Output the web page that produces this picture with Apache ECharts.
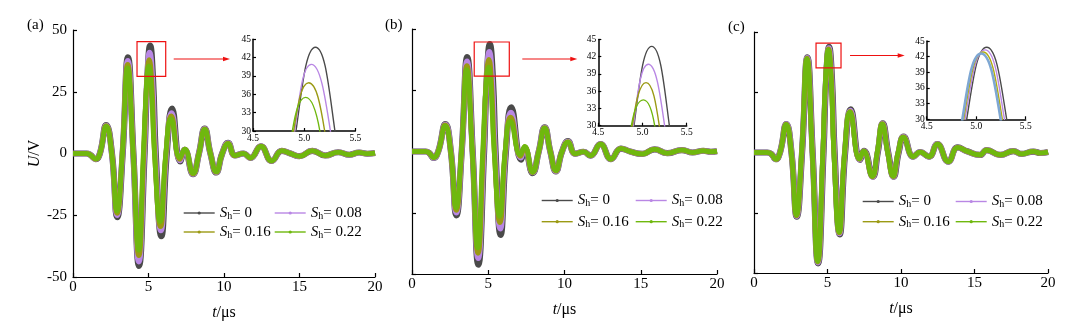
<!DOCTYPE html>
<html>
<head>
<meta charset="utf-8">
<script src="https://cdn.jsdelivr.net/npm/echarts@6/dist/echarts.min.js"></script>
<style>
  html, body { margin: 0; padding: 0; background: #fff; }
  #main { width: 1076px; height: 326px; }
</style>
</head>
<body>
<div id="main"></div>
<script>
// ---- Data: received voltage U (V) against time t (µs), one list of [t, U] per S_h ----
const shValues = ['0', '0.08', '0.16', '0.22'];

// Panel (a)
const tailA = [[10.73,-0.8],[11.28,0],[11.75,-1.8],[12.44,2.9],[13.16,-3.0],[13.83,1.1],[14.4,0],[15.0,-1.1],[15.85,1.1],[16.7,-0.8],[17.57,0.5],[18.3,-0.5],[18.95,0.4],[19.5,-0.1],[20,0.2]];
const aS0 = [[0,0],[0.9,0],[1.15,-0.6],[1.5,-2.3],[1.78,0],[2.2,11.5],[2.58,0],[2.93,-25.8],[3.29,0],[3.64,38.9],[4.0,0],[4.37,-45.5],[4.74,0],[4.92,30],[5.11,43.7],[5.30,30],[5.48,0],[5.85,-33.5],[6.21,0],[6.56,18.2],[7.1,-3.2],[7.4,1.5],[7.95,-8.4],[8.34,0],[8.72,10.1],[9.1,0],[9.49,-7.7],[9.88,0],[10.27,4.3]];
const aS08 = [[0,0],[0.9,0],[1.15,-0.6],[1.5,-2.3],[1.78,0],[2.2,11.3],[2.57,0],[2.92,-25.0],[3.28,0],[3.63,37.5],[3.99,0],[4.36,-43.8],[4.717,0],[4.907,30],[5.07,40.9],[5.256,30],[5.446,0],[5.82,-31.2],[6.18,0],[6.53,16.4],[7.09,-2.8],[7.4,1.6],[7.95,-8.3],[8.34,0],[8.72,10.0],[9.1,0],[9.49,-7.6],[9.88,0],[10.27,4.2]];
const aS16 = [[0,0],[0.9,0],[1.15,-0.6],[1.5,-2.3],[1.78,0],[2.2,11.2],[2.57,0],[2.92,-24.2],[3.27,0],[3.62,36.0],[3.99,0],[4.36,-41.3],[4.685,0],[4.897,30],[5.044,37.9],[5.20,30],[5.41,0],[5.80,-29.5],[6.16,0],[6.51,15.2],[7.08,-2.3],[7.4,1.7],[7.95,-8.2],[8.34,0],[8.72,9.9],[9.1,0],[9.49,-7.5],[9.88,0],[10.27,4.1]];
const aS22 = [[0,0],[0.9,0],[1.15,-0.6],[1.5,-2.2],[1.78,0],[2.2,11.0],[2.56,0],[2.91,-23.4],[3.27,0],[3.62,34.7],[3.98,0],[4.35,-39.2],[4.65,0],[4.884,30],[5.014,35.5],[5.153,30],[5.39,0],[5.78,-27.7],[6.14,0],[6.49,14.0],[7.07,-1.6],[7.4,1.8],[7.95,-8.0],[8.34,0],[8.72,9.8],[9.1,0],[9.49,-7.4],[9.88,0],[10.27,4.0]];

// Panel (b)
const tailB = [[10.7,-0.9],[11.25,-0.1],[11.7,-1.7],[12.36,3.0],[13.05,-3.1],[13.7,1.2],[14.3,0],[15.1,-1.0],[15.9,0.9],[16.75,-0.7],[17.7,0.6],[18.4,-0.4],[19.1,0.3],[19.6,-0.1],[20,0.1]];
const bS0 = [[0,0],[0.9,0],[1.13,-0.6],[1.42,-2.6],[1.72,0],[2.19,11.2],[2.55,0],[2.91,-26.1],[3.26,0],[3.62,38.5],[3.98,0],[4.35,-46.2],[4.728,0],[4.904,30],[5.104,43.8],[5.304,30],[5.48,0],[5.81,-34.0],[6.16,0],[6.51,18.0],[7.15,-3.3],[7.39,1.2],[7.91,-8.8],[8.31,0],[8.7,9.9],[9.07,0],[9.44,-8.1],[9.84,0],[10.23,4.2]];
const bS08 = [[0,0],[0.9,0],[1.13,-0.6],[1.42,-2.6],[1.72,0],[2.19,11.0],[2.55,0],[2.9,-25.0],[3.26,0],[3.61,36.8],[3.97,0],[4.34,-43.6],[4.703,0],[4.896,30],[5.066,40.7],[5.25,30],[5.443,0],[5.79,-31.5],[6.14,0],[6.49,15.9],[7.13,-2.5],[7.39,1.6],[7.91,-8.6],[8.31,0],[8.7,9.8],[9.07,0],[9.44,-8.0],[9.84,0],[10.23,4.1]];
const bS16 = [[0,0],[0.9,0],[1.13,-0.6],[1.42,-2.5],[1.72,0],[2.18,10.8],[2.54,0],[2.9,-24.0],[3.25,0],[3.6,35.0],[3.96,0],[4.33,-41.5],[4.67,0],[4.885,30],[5.04,37.5],[5.19,30],[5.405,0],[5.77,-29.0],[6.12,0],[6.47,14.0],[7.12,-1.9],[7.39,1.9],[7.91,-8.5],[8.31,0],[8.7,9.7],[9.07,0],[9.44,-7.9],[9.84,0],[10.23,4.0]];
const bS22 = [[0,0],[0.9,0],[1.13,-0.6],[1.42,-2.5],[1.72,0],[2.18,10.5],[2.54,0],[2.89,-23.0],[3.24,0],[3.59,33.4],[3.95,0],[4.31,-39.4],[4.63,0],[4.874,30],[5.01,34.5],[5.138,30],[5.383,0],[5.75,-26.5],[6.1,0],[6.45,12.3],[7.1,-1.3],[7.39,2.1],[7.91,-8.4],[8.31,0],[8.7,9.6],[9.07,0],[9.44,-7.8],[9.84,0],[10.23,3.9]];

// Panel (c)
const tailC = [[10.84,-1.7],[11.3,0.2],[11.9,-1.7],[12.47,3.5],[13.22,-3.8],[13.86,2.1],[14.5,0.5],[15.37,-1.0],[15.83,1.0],[16.75,-1.0],[17.64,0.6],[18.2,-0.6],[19.0,0.4],[19.5,-0.2],[20,0.2]];
const cS0 = [[0,0],[0.9,0],[1.18,-0.6],[1.48,-2.8],[1.77,0],[2.2,11.8],[2.55,0],[2.91,-26.6],[3.27,0],[3.63,39.5],[3.99,0],[4.36,-46.0],[4.728,0],[4.904,30],[5.106,43.8],[5.308,30],[5.484,0],[5.83,-34.0],[6.2,0],[6.58,17.9],[7.21,-3.1],[7.49,0.7],[8.08,-10.0],[8.42,0],[8.76,12.1],[9.13,0],[9.5,-10.0],[9.84,0],[10.18,6.6]];
const cS08 = [[0,0],[0.9,0],[1.18,-0.6],[1.48,-2.8],[1.77,0],[2.2,11.8],[2.55,0],[2.9,-26.4],[3.26,0],[3.62,39.3],[3.98,0],[4.35,-45.7],[4.709,0],[4.887,30],[5.09,43.3],[5.285,30],[5.463,0],[5.81,-33.6],[6.18,0],[6.56,17.4],[7.19,-3.0],[7.47,0.6],[8.06,-10.1],[8.4,0],[8.74,12.0],[9.11,0],[9.48,-10.0],[9.82,0],[10.17,6.5]];
const cS16 = [[0,0],[0.9,0],[1.18,-0.6],[1.48,-2.8],[1.77,0],[2.19,11.7],[2.54,0],[2.89,-26.2],[3.25,0],[3.61,39.1],[3.97,0],[4.34,-45.4],[4.694,0],[4.874,30],[5.07,42.9],[5.264,30],[5.444,0],[5.8,-33.3],[6.17,0],[6.54,17.0],[7.18,-2.8],[7.46,0.6],[8.05,-10.0],[8.39,0],[8.73,11.9],[9.1,0],[9.47,-9.9],[9.81,0],[10.16,6.4]];
const cS22 = [[0,0],[0.9,0],[1.18,-0.6],[1.48,-2.8],[1.77,0],[2.19,11.6],[2.54,0],[2.88,-26.0],[3.24,0],[3.6,38.9],[3.96,0],[4.33,-45.2],[4.679,0],[4.86,30],[5.05,42.6],[5.247,30],[5.428,0],[5.79,-33.0],[6.16,0],[6.53,16.8],[7.17,-2.7],[7.45,0.6],[8.04,-9.9],[8.38,0],[8.72,11.8],[9.09,0],[9.46,-9.8],[9.8,0],[10.15,6.3]];

// Tick values
const tTicks = [0, 5, 10, 15, 20];
const uTicks = [-50, -25, 0, 25, 50];
const tZoomTicks = [4.5, 5.0, 5.5];
const uZoomTicks = [30, 33, 36, 39, 42, 45];
const panelLabels = ['(a)', '(b)', '(c)'];

// Magnified windows (t range, U range) marked by the red boxes
const zoomWindows = [[4.24, 6.14, 31.2, 45.3], [4.08, 6.38, 30.8, 44.7], [4.22, 5.92, 35.1, 45.4]];

// ---- Styling and layout ----
const FONT = 'Liberation Serif';
const seriesNames = shValues.map(v => 'S_h = ' + v);
const lineColors = ['#4a4a4a', '#b987e4', '#9b9a14', '#6fb80e'];
const insetColors = [lineColors, lineColors, ['#4a4a4a', '#b987e4', '#b3ac10', '#7ea7d3']];
const mainWidths = [6.2, 5.6, 5.1, 4.6];
const panelSeries = [
  [aS0.concat(tailA), aS08.concat(tailA), aS16.concat(tailA), aS22.concat(tailA)],
  [bS0.concat(tailB), bS08.concat(tailB), bS16.concat(tailB), bS22.concat(tailB)],
  [cS0.concat(tailC), cS08.concat(tailC), cS16.concat(tailC), cS22.concat(tailC)]
];
const layout = [
  { main: { left: 73, top: 30, width: 302, height: 247 }, inset: { left: 253, top: 39.3, width: 102.4, height: 91.7 },
    legend: { col1: 183, col2: 274, top: 205.5, gap: 3.5 }, label: { left: 27, top: 17.5 }, arrow: [8, 23] },
  { main: { left: 412, top: 29, width: 305, height: 245 }, inset: { left: 598.3, top: 39.5, width: 88.4, height: 86.2 },
    legend: { col1: 541, col2: 635, top: 193, gap: 5.7 }, label: { left: 385, top: 17.5 }, arrow: [13, 21] },
  { main: { left: 754, top: 32, width: 294, height: 241 }, inset: { left: 926.7, top: 41, width: 99, height: 78.3 },
    legend: { col1: 862, col2: 955, top: 194, gap: 4.7 }, label: { left: 728, top: 19.5 }, arrow: [9, 22] }
];

const axisLineStyle = { color: '#000', width: 1.2 };
const grids = [], xAxes = [], yAxes = [], series = [], legends = [], titles = [];

layout.forEach((L, p) => {
  grids.push(Object.assign({ containLabel: false }, L.main));
  grids.push(Object.assign({ containLabel: false }, L.inset));
  const gMain = 2 * p, gInset = 2 * p + 1;

  xAxes.push({
    type: 'value', gridIndex: gMain,
    min: tTicks[0], max: tTicks[tTicks.length - 1], interval: tTicks[1] - tTicks[0],
    axisLine: { show: true, onZero: false, lineStyle: axisLineStyle },
    axisTick: { show: true, inside: true, length: 4, lineStyle: axisLineStyle },
    axisLabel: { show: true, margin: 3, color: '#000', fontFamily: FONT, fontSize: 15 },
    splitLine: { show: false },
    name: '{i|t}/μs', nameLocation: 'middle', nameGap: 28,
    nameTextStyle: { color: '#000', fontFamily: FONT, fontSize: 16, rich: { i: { fontStyle: 'italic', fontFamily: FONT, fontSize: 16, color: '#000' } } }
  });
  yAxes.push({
    type: 'value', gridIndex: gMain,
    min: uTicks[0], max: uTicks[uTicks.length - 1], interval: uTicks[1] - uTicks[0],
    axisLine: { show: true, onZero: false, lineStyle: axisLineStyle },
    axisTick: { show: true, inside: true, length: 4, lineStyle: axisLineStyle },
    axisLabel: { show: p === 0, margin: 6, color: '#000', fontFamily: FONT, fontSize: 15 },
    splitLine: { show: false },
    name: p === 0 ? '{i|U}/V' : '', nameLocation: 'middle', nameGap: 24,
    nameTextStyle: { color: '#000', fontFamily: FONT, fontSize: 16, rich: { i: { fontStyle: 'italic', fontFamily: FONT, fontSize: 16, color: '#000' } } }
  });
  xAxes.push({
    type: 'value', gridIndex: gInset,
    min: tZoomTicks[0], max: tZoomTicks[tZoomTicks.length - 1], interval: tZoomTicks[1] - tZoomTicks[0],
    axisLine: { show: true, onZero: false, lineStyle: { color: '#000', width: 1.5 } },
    axisTick: { show: true, inside: true, length: 3, lineStyle: { color: '#000', width: 1.2 } },
    axisLabel: { show: true, margin: 2, color: '#000', fontFamily: FONT, fontSize: 9.5, formatter: v => v.toFixed(1) },
    splitLine: { show: false }
  });
  yAxes.push({
    type: 'value', gridIndex: gInset,
    min: uZoomTicks[0], max: uZoomTicks[uZoomTicks.length - 1], interval: uZoomTicks[1] - uZoomTicks[0],
    axisLine: { show: true, onZero: false, lineStyle: { color: '#000', width: 1.5 } },
    axisTick: { show: true, inside: true, length: 3, lineStyle: { color: '#000', width: 1.2 } },
    axisLabel: { show: true, margin: 2, color: '#000', fontFamily: FONT, fontSize: 9.5 },
    splitLine: { show: false }
  });

  panelSeries[p].forEach((data, k) => {
    series.push({
      type: 'line', name: seriesNames[k], data: data,
      xAxisIndex: gMain, yAxisIndex: gMain,
      smooth: 0.5, symbol: 'circle', symbolSize: 3, showSymbol: false,
      lineStyle: { color: lineColors[k], width: mainWidths[k] },
      itemStyle: { color: lineColors[k] },
      emphasis: { disabled: true }, silent: true, z: 2 + k
    });
  });
  panelSeries[p].forEach((data, k) => {
    const col = insetColors[p][k];
    series.push({
      type: 'line', name: seriesNames[k], data: data,
      xAxisIndex: gInset, yAxisIndex: gInset,
      smooth: 0.5, symbol: 'circle', showSymbol: false, clip: true,
      lineStyle: { color: col, width: (p === 2 && k === 3) ? 2.6 : 1.4 },
      itemStyle: { color: col },
      emphasis: { disabled: true }, silent: true, z: 2 + k
    });
  });

  const legendBase = {
    orient: 'vertical', top: L.legend.top, padding: 0, itemGap: L.legend.gap,
    itemWidth: 31, itemHeight: 4, selectedMode: false,
    lineStyle: { width: 1.4 },
    formatter: name => '{s|S}{h|h}{v|= ' + shValues[seriesNames.indexOf(name)] + '}',
    textStyle: {
      fontFamily: FONT, fontSize: 15, color: '#000',
      rich: {
        s: { fontFamily: FONT, fontSize: 15, fontStyle: 'italic', lineHeight: 16, color: '#000' },
        h: { fontFamily: FONT, fontSize: 10, lineHeight: 10, verticalAlign: 'bottom', color: '#000' },
        v: { fontFamily: FONT, fontSize: 15, lineHeight: 16, color: '#000' }
      }
    }
  };
  legends.push(Object.assign({}, legendBase, { left: L.legend.col1, data: [seriesNames[0], seriesNames[2]] }));
  legends.push(Object.assign({}, legendBase, { left: L.legend.col2, data: [seriesNames[1], seriesNames[3]] }));

  titles.push({
    text: panelLabels[p], left: L.label.left, top: L.label.top, padding: 0,
    textStyle: { fontFamily: FONT, fontSize: 15, fontWeight: 'normal', color: '#000' }
  });
});

const chart = echarts.init(document.getElementById('main'), null, { renderer: 'canvas' });
chart.setOption({
  animation: false,
  backgroundColor: '#fff',
  title: titles,
  grid: grids,
  xAxis: xAxes,
  yAxis: yAxes,
  legend: legends,
  series: series
});

// Red boxes around the magnified peak, with arrows to the inset axes
const graphics = [];
zoomWindows.forEach((w, p) => {
  const tl = chart.convertToPixel({ gridIndex: 2 * p }, [w[0], w[3]]);
  const br = chart.convertToPixel({ gridIndex: 2 * p }, [w[1], w[2]]);
  graphics.push({
    type: 'rect', silent: true, z: 100,
    shape: { x: tl[0], y: tl[1], width: br[0] - tl[0], height: br[1] - tl[1] },
    style: { fill: 'none', stroke: '#ee1111', lineWidth: 1.2 }
  });
  const y = (tl[1] + br[1]) / 2;
  const x0 = br[0] + layout[p].arrow[0];
  const x1 = layout[p].inset.left - layout[p].arrow[1];
  graphics.push({
    type: 'line', silent: true, z: 100,
    shape: { x1: x0, y1: y, x2: x1 - 5, y2: y },
    style: { stroke: '#ee1111', lineWidth: 1.2 }
  });
  graphics.push({
    type: 'polygon', silent: true, z: 100,
    shape: { points: [[x1, y], [x1 - 7, y - 2.3], [x1 - 7, y + 2.3]] },
    style: { fill: '#ee1111' }
  });
});
chart.setOption({ graphic: graphics });
</script>
</body>
</html>
